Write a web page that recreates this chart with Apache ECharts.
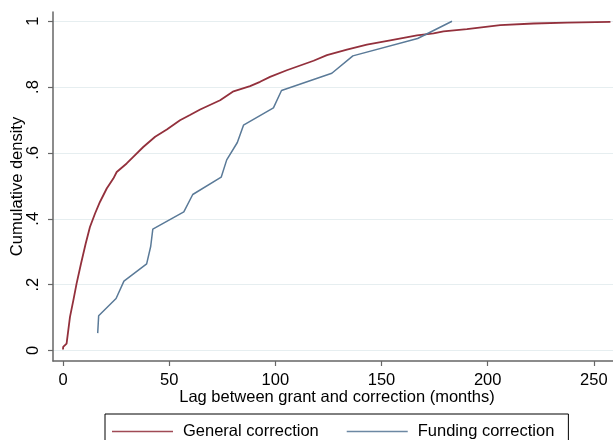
<!DOCTYPE html>
<html>
<head>
<meta charset="utf-8">
<script src="https://cdn.jsdelivr.net/npm/echarts@6/dist/echarts.min.js"></script>
<style>
html,body{margin:0;padding:0;background:#fff;}
#chart{width:613px;height:440px;}
</style>
</head>
<body>
<div id="chart"></div>
<script>
// General correction (cumulative distribution)
var generalX = [0, 0.1, 1.7, 3.3, 4.9, 6.4, 8.5, 10.7, 12.7, 15.1, 17.4, 20.6, 23.7, 25.3, 30, 33.1, 37.8, 43.4, 48.9, 55.1, 59.8, 64.6, 74, 80.3, 88.1, 92.8, 97.5, 105.4, 118, 124.3, 133.7, 143.1, 154.1, 166.7, 174.5, 179.2, 190.2, 205.9, 221.6, 237.4, 257.8];
var generalY = [0.003, 0.011, 0.021, 0.102, 0.153, 0.203, 0.264, 0.325, 0.375, 0.416, 0.451, 0.492, 0.522, 0.542, 0.568, 0.588, 0.618, 0.649, 0.671, 0.699, 0.715, 0.732, 0.760, 0.787, 0.803, 0.816, 0.831, 0.851, 0.880, 0.897, 0.914, 0.929, 0.942, 0.957, 0.963, 0.969, 0.976, 0.988, 0.993, 0.996, 0.998];
// Funding correction
var fundingX = [16.35, 16.8, 25.0, 28.7, 39.4, 41.3, 42.3, 56.9, 61.1, 74.5, 77.1, 82.1, 85.0, 99.1, 102.9, 126.6, 136.5, 167.0, 183.2];
var fundingY = [0.0526, 0.1053, 0.1579, 0.2105, 0.2632, 0.3158, 0.3684, 0.4211, 0.4737, 0.5263, 0.5789, 0.6316, 0.6842, 0.7368, 0.7895, 0.8421, 0.8947, 0.9474, 1.0];
// Ticks
var xTicks = [0, 50, 100, 150, 200, 250];
var yTicks = [0, 0.2, 0.4, 0.6, 0.8, 1];
var yTickLabels = ['0', '.2', '.4', '.6', '.8', '1'];
var seriesNames = ['General correction', 'Funding correction'];

function zip(a, b) { return a.map(function (v, i) { return [v, b[i]]; }); }

var font = 'Liberation Sans, Arial, sans-serif';
var fs = 16.5;
var chart = echarts.init(document.getElementById('chart'), null, { renderer: 'canvas' });
chart.setOption({
  animation: false,
  backgroundColor: '#ffffff',
  grid: { left: 53, right: 0, top: 12, bottom: 79, containLabel: false, outerBoundsMode: 'none' },
  xAxis: {
    type: 'value',
    min: -4.7, max: 259,
    name: 'Lag between grant and correction (months)',
    nameLocation: 'middle', nameGap: 28, nameMoveOverlap: false,
    nameTextStyle: { fontFamily: font, fontSize: fs, color: '#000', padding: [0, 0, 0, 8] },
    axisLine: { show: true, onZero: false, lineStyle: { color: '#666', width: 1.5 } },
    axisTick: { show: true, length: 5, customValues: xTicks, lineStyle: { color: '#666', width: 1.2 } },
    axisLabel: { customValues: xTicks, fontFamily: font, fontSize: fs, color: '#000', margin: 11 },
    splitLine: { show: false }
  },
  yAxis: {
    type: 'value',
    min: -0.032, max: 1.028,
    name: 'Cumulative density',
    nameLocation: 'middle', nameGap: 27, nameRotate: 90, nameMoveOverlap: false,
    nameTextStyle: { fontFamily: font, fontSize: fs, color: '#000' },
    axisLine: { show: true, onZero: false, lineStyle: { color: '#666', width: 1.5 } },
    axisTick: { show: true, length: 5, customValues: yTicks, lineStyle: { color: '#666', width: 1.2 } },
    axisLabel: {
      customValues: yTicks, rotate: 90, fontFamily: font, fontSize: fs, color: '#000', margin: 11,
      formatter: function (v) {
        for (var i = 0; i < yTicks.length; i++) if (Math.abs(yTicks[i] - v) < 1e-9) return yTickLabels[i];
        return '';
      }
    },
    splitLine: { show: true, lineStyle: { color: '#e6eef0', width: 1 } }
  },
  legend: {
    left: 105, top: 414,
    padding: [9, 14, 20, 7],
    borderColor: '#000', borderWidth: 1,
    icon: 'rect',
    itemWidth: 61, itemHeight: 1.5, itemGap: 28,
    textStyle: { fontFamily: font, fontSize: fs, color: '#000', padding: [0, 0, 0, 5] },
    data: seriesNames
  },
  series: [
    {
      name: seriesNames[0], type: 'line', symbol: 'none',
      data: zip(generalX, generalY),
      lineStyle: { color: '#93303c', width: 1.8 },
      itemStyle: { color: '#a04a55' }
    },
    {
      name: seriesNames[1], type: 'line', symbol: 'none',
      data: zip(fundingX, fundingY),
      lineStyle: { color: '#5a7a98', width: 1.5 },
      itemStyle: { color: '#6c88a3' }
    }
  ]
});
</script>
</body>
</html>
